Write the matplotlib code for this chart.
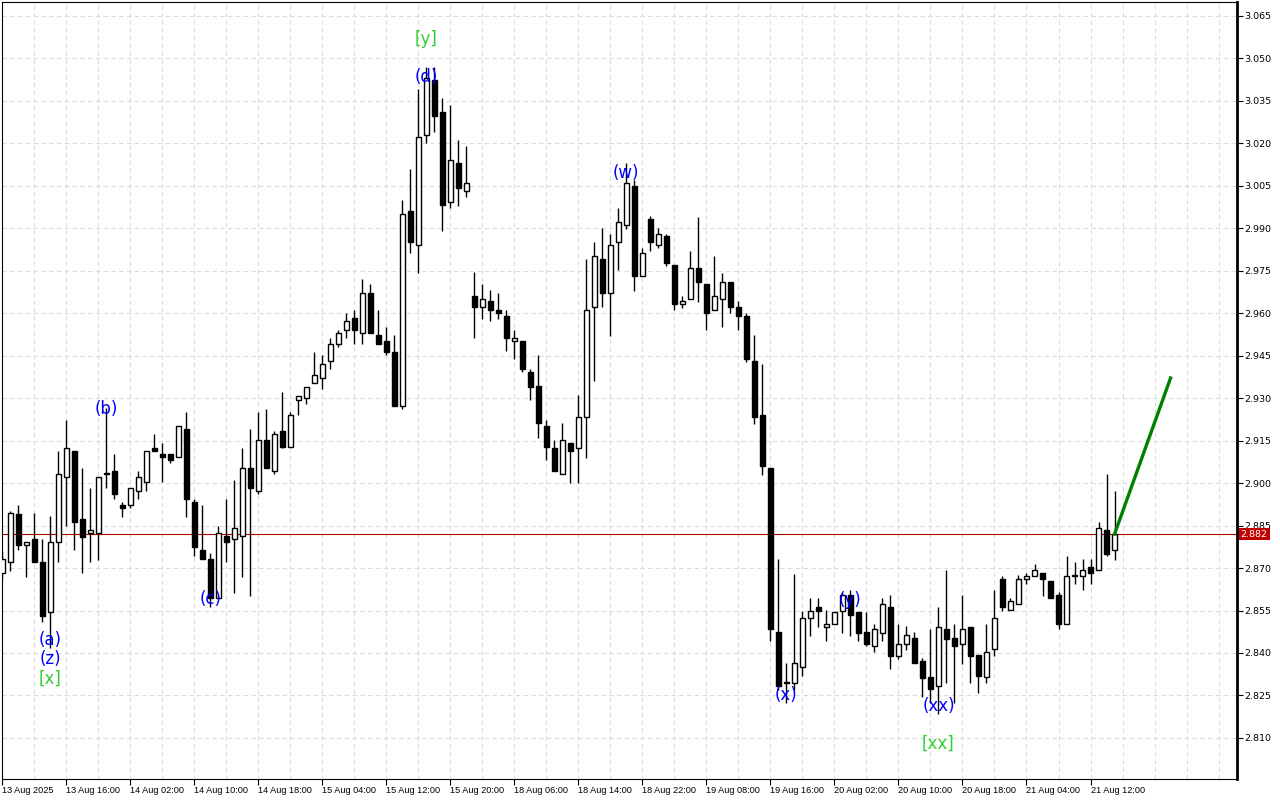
import matplotlib
matplotlib.use('Agg')
import matplotlib.pyplot as plt
import matplotlib.transforms as mtransforms
import numpy as np

# hourly candles
opens = [
    2.8683, 2.8721, 2.8890, 2.8780, 2.8802, 2.8721, 2.8544, 2.8792, 2.9021, 2.9114,
    2.8874, 2.8823, 2.8823, 2.9032, 2.9043, 2.8922, 2.8922, 2.8972, 2.9003, 2.9124,
    2.9102, 2.9102, 2.9092, 2.9191, 2.8933, 2.8762, 2.8732, 2.8594, 2.8813, 2.8802,
    2.8813, 2.9053, 2.8972, 2.9152, 2.9042, 2.9184, 2.9129, 2.9294, 2.9300, 2.9353,
    2.9371, 2.9431, 2.9491, 2.9540, 2.9583, 2.9530, 2.9671, 2.9523, 2.9502, 2.9463,
    2.9271, 2.9961, 2.9841, 3.0229, 3.0424, 3.0311, 2.9991, 3.0130, 3.0031, 2.9662,
    2.9622, 2.9644, 2.9611, 2.9591, 2.9502, 2.9503, 2.9392, 2.9344, 2.9201, 2.9124,
    2.9032, 2.9142, 2.9124, 2.9233, 2.9622, 2.9792, 2.9670, 2.9851, 2.9911, 3.0050,
    2.9730, 2.9932, 2.9841, 2.9873, 2.9770, 2.9631, 2.9650, 2.9760, 2.9704, 2.9611,
    2.9650, 2.9710, 2.9622, 2.9591, 2.9432, 2.9241, 2.9053, 2.8474, 2.8294, 2.8294,
    2.8352, 2.8523, 2.8561, 2.8491, 2.8502, 2.8550, 2.8605, 2.8544, 2.8474, 2.8423,
    2.8472, 2.8561, 2.8391, 2.8431, 2.8453, 2.8372, 2.8315, 2.8282, 2.8483, 2.8453,
    2.8431, 2.8492, 2.8393, 2.8315, 2.8414, 2.8661, 2.8551, 2.8573, 2.8661, 2.8673,
    2.8682, 2.8653, 2.8605, 2.8502, 2.8672, 2.8672, 2.8702, 2.8693, 2.8834, 2.8763,
]
highs = [
    2.8760, 2.8902, 2.8922, 2.8792, 2.8894, 2.8802, 2.8885, 2.9114, 2.9224, 2.9114,
    2.9053, 2.8983, 2.9021, 2.9266, 2.9102, 2.8934, 2.8982, 2.9043, 2.9114, 2.9174,
    2.9141, 2.9102, 2.9200, 2.9251, 2.8944, 2.8922, 2.8753, 2.8850, 2.8944, 2.9012,
    2.9124, 2.9191, 2.9251, 2.9261, 2.9185, 2.9321, 2.9251, 2.9309, 2.9341, 2.9464,
    2.9452, 2.9512, 2.9539, 2.9600, 2.9611, 2.9721, 2.9703, 2.9612, 2.9551, 2.9523,
    3.0001, 3.0110, 3.0392, 3.0471, 3.0471, 3.0360, 3.0334, 3.0212, 3.0191, 2.9744,
    2.9704, 2.9683, 2.9671, 2.9611, 2.9542, 2.9503, 2.9403, 2.9452, 2.9222, 2.9152,
    2.9213, 2.9142, 2.9312, 2.9792, 2.9852, 2.9901, 2.9881, 2.9971, 3.0130, 3.0071,
    2.9830, 2.9942, 2.9901, 2.9880, 2.9770, 2.9661, 2.9820, 2.9939, 2.9704, 2.9802,
    2.9742, 2.9710, 2.9643, 2.9600, 2.9524, 2.9421, 2.9053, 2.8732, 2.8364, 2.8679,
    2.8547, 2.8594, 2.8594, 2.8552, 2.8544, 2.8614, 2.8623, 2.8544, 2.8544, 2.8503,
    2.8594, 2.8605, 2.8503, 2.8494, 2.8475, 2.8382, 2.8485, 2.8564, 2.8693, 2.8503,
    2.8605, 2.8492, 2.8393, 2.8503, 2.8623, 2.8673, 2.8595, 2.8674, 2.8682, 2.8713,
    2.8682, 2.8653, 2.8614, 2.8742, 2.8722, 2.8732, 2.8732, 2.8862, 2.9032, 2.8973,
]
lows = [
    2.8660, 2.8691, 2.8762, 2.8670, 2.8720, 2.8511, 2.8418, 2.8720, 2.8850, 2.8762,
    2.8681, 2.8720, 2.8729, 2.8982, 2.8944, 2.8882, 2.8912, 2.8944, 2.8972, 2.9112,
    2.9003, 2.9071, 2.9092, 2.8882, 2.8741, 2.8732, 2.8562, 2.8594, 2.8720, 2.8611,
    2.8670, 2.8603, 2.8962, 2.9052, 2.9032, 2.9124, 2.9129, 2.9239, 2.9281, 2.9353,
    2.9332, 2.9403, 2.9480, 2.9511, 2.9491, 2.9491, 2.9530, 2.9491, 2.9452, 2.9271,
    2.9261, 2.9812, 2.9742, 3.0201, 3.0240, 2.9889, 2.9971, 2.9980, 3.0010, 2.9511,
    2.9581, 2.9572, 2.9581, 2.9468, 2.9440, 2.9391, 2.9292, 2.9161, 2.9080, 2.9041,
    2.9032, 2.8999, 2.8999, 2.9090, 2.9359, 2.9622, 2.9521, 2.9751, 2.9899, 2.9680,
    2.9730, 2.9819, 2.9829, 2.9768, 2.9610, 2.9619, 2.9650, 2.9641, 2.9539, 2.9611,
    2.9551, 2.9600, 2.9539, 2.9429, 2.9209, 2.9030, 2.8441, 2.8270, 2.8223, 2.8270,
    2.8320, 2.8461, 2.8491, 2.8441, 2.8502, 2.8472, 2.8461, 2.8441, 2.8423, 2.8402,
    2.8441, 2.8343, 2.8379, 2.8411, 2.8363, 2.8244, 2.8223, 2.8184, 2.8294, 2.8223,
    2.8362, 2.8294, 2.8260, 2.8294, 2.8391, 2.8550, 2.8551, 2.8573, 2.8643, 2.8673,
    2.8603, 2.8594, 2.8484, 2.8502, 2.8643, 2.8623, 2.8643, 2.8693, 2.8742, 2.8728,
]
closes = [
    2.8733, 2.8894, 2.8780, 2.8792, 2.8720, 2.8532, 2.8792, 2.9032, 2.9124, 2.8861,
    2.8811, 2.8834, 2.9021, 2.9035, 2.8961, 2.8912, 2.8982, 2.9021, 2.9112, 2.9112,
    2.9092, 2.9080, 2.9200, 2.8944, 2.8774, 2.8732, 2.8594, 2.8823, 2.8792, 2.8841,
    2.9053, 2.8982, 2.9152, 2.9052, 2.9173, 2.9129, 2.9240, 2.9309, 2.9341, 2.9381,
    2.9420, 2.9491, 2.9530, 2.9572, 2.9540, 2.9671, 2.9530, 2.9491, 2.9463, 2.9271,
    2.9951, 2.9851, 3.0222, 3.0430, 3.0298, 2.9982, 3.0141, 3.0041, 3.0060, 2.9622,
    2.9650, 2.9611, 2.9600, 2.9511, 2.9512, 2.9403, 2.9341, 2.9212, 2.9129, 2.9041,
    2.9152, 2.9112, 2.9233, 2.9611, 2.9803, 2.9670, 2.9841, 2.9923, 3.0060, 2.9730,
    2.9811, 2.9850, 2.9880, 2.9779, 2.9631, 2.9643, 2.9760, 2.9710, 2.9600, 2.9662,
    2.9710, 2.9622, 2.9590, 2.9439, 2.9233, 2.9062, 2.8484, 2.8282, 2.8296, 2.8364,
    2.8523, 2.8550, 2.8550, 2.8502, 2.8544, 2.8605, 2.8534, 2.8472, 2.8432, 2.8484,
    2.8573, 2.8391, 2.8431, 2.8463, 2.8363, 2.8313, 2.8272, 2.8491, 2.8451, 2.8423,
    2.8484, 2.8391, 2.8320, 2.8403, 2.8523, 2.8562, 2.8583, 2.8661, 2.8672, 2.8693,
    2.8661, 2.8594, 2.8502, 2.8672, 2.8674, 2.8693, 2.8682, 2.8841, 2.8751, 2.8820,
]

time_labels = ['13 Aug 2025', '13 Aug 16:00', '14 Aug 02:00', '14 Aug 10:00', '14 Aug 18:00',
               '15 Aug 04:00', '15 Aug 12:00', '15 Aug 20:00', '18 Aug 06:00', '18 Aug 14:00',
               '18 Aug 22:00', '19 Aug 08:00', '19 Aug 16:00', '20 Aug 02:00', '20 Aug 10:00',
               '20 Aug 18:00', '21 Aug 04:00', '21 Aug 12:00']
price_ticks = [2.810, 2.825, 2.840, 2.855, 2.870, 2.885, 2.900, 2.915, 2.930, 2.945,
               2.960, 2.975, 2.990, 3.005, 3.020, 3.035, 3.050, 3.065]
last_price = 2.882

# wave labels: (text, bar, price, colour)
wave_labels = [
    ('(a)', 6, 2.8447, 'blue'), ('(z)', 6, 2.8380, 'blue'), ('[x]', 6, 2.8309, 'limegreen'),
    ('(b)', 13, 2.9262, 'blue'), ('(c)', 26, 2.8591, 'blue'),
    ('(d)', 53, 3.0435, 'blue'), ('[y]', 53, 3.0569, 'limegreen'),
    ('(w)', 78, 3.0096, 'blue'), ('(x)', 98, 2.8252, 'blue'), ('(y)', 106, 2.8588, 'blue'),
    ('(xx)', 117, 2.8213, 'blue'), ('[xx]', 117, 2.8080, 'limegreen'),
]
forecast_bars = [139, 146]
forecast_prices = [2.882, 2.9371]

o = np.array(opens)
h = np.array(highs)
l = np.array(lows)
c = np.array(closes)
idx = np.arange(len(o))

fig = plt.figure(figsize=(12.8, 8), dpi=100)
ax = fig.add_axes([0.0016, 0.02625, 0.9648, 0.97125])

# grid
for yv in price_ticks:
    ax.axhline(yv, color='#dcdcdc', lw=0.8, ls=(0, (4, 3)), zorder=0)
for xv in range(4, 156, 4):
    ax.axvline(xv, color='#dcdcdc', lw=0.8, ls=(0, (4, 3)), zorder=0)

# candles
ax.vlines(idx, l, h, color='black', lw=1.0, zorder=2)
up = c >= o
body_bottom = np.minimum(o, c)
body_height = np.maximum(np.abs(c - o), 0.0002)
ax.bar(idx[up], body_height[up], bottom=body_bottom[up], width=0.62,
       facecolor='white', edgecolor='black', linewidth=1.0, zorder=3)
ax.bar(idx[~up], body_height[~up], bottom=body_bottom[~up], width=0.62,
       facecolor='black', edgecolor='black', linewidth=1.0, zorder=3)

# current price line
ax.axhline(last_price, color='#b00000', lw=0.8, zorder=1)

# forecast line
ax.plot(forecast_bars, forecast_prices, color='#008000', lw=2.4, zorder=4)

for txt, bx, py, col in wave_labels:
    ax.text(bx, py, txt, color=col, fontsize=12, ha='center', va='center', zorder=5)

ax.set_xlim(0, 154.3)
ax.set_ylim(2.7955, 3.0699)

ax.yaxis.tick_right()
ax.set_yticks(price_ticks)
ax.set_yticklabels([f'{v:.3f}' for v in price_ticks])
ax.tick_params(axis='y', direction='out', length=4, width=0.8, pad=1, labelsize=6.8)

ax.set_xticks(list(range(0, len(time_labels) * 8, 8)))
ax.set_xticklabels(time_labels, ha='left', family='Liberation Sans')
ax.tick_params(axis='x', direction='out', length=4, width=0.8, pad=1, labelsize=6.6)

for s in ['left', 'top', 'bottom']:
    ax.spines[s].set_linewidth(0.8)
ax.spines['right'].set_linewidth(2.0)

# price tag on the right axis
trans = mtransforms.blended_transform_factory(ax.transAxes, ax.transData)
ax.text(1.003, last_price, f'{last_price:.3f}', transform=trans, color='white', fontsize=6.8,
        va='center', ha='left',
        bbox=dict(boxstyle='square,pad=0.2', facecolor='#c00000', edgecolor='none'))

fig.savefig('out.png', dpi=100)
